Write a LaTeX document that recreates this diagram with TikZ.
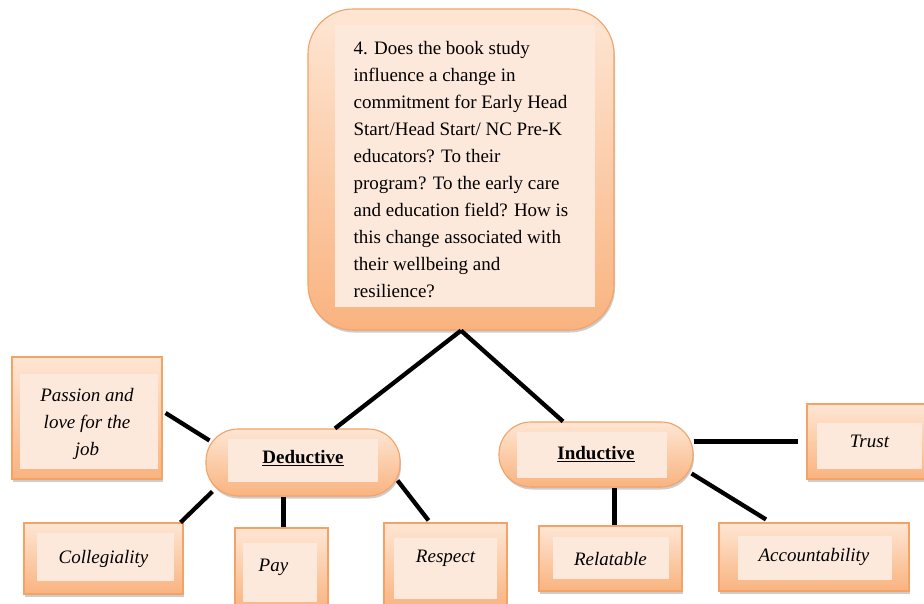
\documentclass[tikz,border=0pt]{standalone}
\usepackage{fontspec}
\setmainfont{Liberation Serif}
\usetikzlibrary{shadows}
\definecolor{edgeOrange}{HTML}{F4A265}
\definecolor{shadeTop}{HTML}{FEE6D4}
\definecolor{shadeBot}{HTML}{F9B37F}
\definecolor{paneFill}{HTML}{FDE9DC}
\begin{document}
\begin{tikzpicture}[x=1pt,y=-1pt,
  card/.style={draw=edgeOrange, line width=1.1pt, top color=shadeTop, bottom color=shadeBot,
    drop shadow={shadow xshift=1pt, shadow yshift=-2.5pt, opacity=0.28, fill=black!70},
    inner sep=0pt, font=\fontsize{19}{27}\selectfont\itshape, align=center},
  pill/.style={card, rounded corners=32pt, font=\fontsize{19}{24}\selectfont\bfseries},
  pane/.style n args={4}{path picture={\fill[paneFill, sharp corners]
      ([xshift=#1,yshift=-#3]path picture bounding box.north west) rectangle
      ([xshift=-#2,yshift=#4]path picture bounding box.south east);}},
  link/.style={line width=4.3pt, black}]
  \useasboundingbox[fill=white] (0,0) rectangle (924,603);

  % central question
  \node[card, rounded corners=45pt, minimum width=306pt, minimum height=321pt,
        pane={27pt}{19pt}{16pt}{23pt}, align=left,
        font=\fontsize{19}{26.9}\selectfont] (q) at (461,169.5)
    {4. Does the book study\\influence a change in\\commitment for Early Head\\
     Start/Head Start/ NC Pre-K\\educators? To their\\program? To the early care\\
     and education field? How is\\this change associated with\\their wellbeing and\\resilience?};

  % the two approaches
  \node[pill, minimum width=194pt, minimum height=67pt, pane={22pt}{22pt}{10pt}{14pt},
        text depth=12pt] (ded) at (303,462.5) {\underline{Deductive}};
  \node[pill, minimum width=194pt, minimum height=65pt, pane={18pt}{26pt}{10pt}{9pt}]
        (ind) at (596,454.5) {\underline{Inductive}};

  % deductive themes
  \node[card, minimum width=150pt, minimum height=122pt, pane={8pt}{4pt}{17pt}{10pt}]
        (pas) at (87,418) {\rule{0pt}{25pt}Passion and\\love for the\\job};
  \node[card, minimum width=159pt, minimum height=71pt, pane={13pt}{9pt}{10pt}{13pt}]
        (col) at (103.5,558.5) {Collegiality};
  \node[card, minimum width=93pt, minimum height=84pt, pane={8pt}{11pt}{15pt}{10pt},
        text depth=10pt] (pay) at (281.5,570) {\hspace*{-16pt}Pay};
  \node[card, minimum width=123pt, minimum height=86pt, pane={10pt}{10pt}{15pt}{10pt},
        text depth=19pt] (res) at (445.5,566) {Respect};

  % inductive themes
  \node[card, minimum width=143pt, minimum height=65pt, pane={14pt}{13pt}{11pt}{12pt}]
        (rel) at (610.5,558.5) {Relatable};
  \node[card, minimum width=190pt, minimum height=68pt, pane={19pt}{17pt}{13pt}{11pt}]
        (acc) at (814,557) {Accountability};
  \node[card, minimum width=125pt, minimum height=75pt, pane={10pt}{10pt}{19pt}{10pt}]
        (tr) at (869.5,441.5) {Trust};

  % connectors
  \draw[link] (q.south) -- ([xshift=32pt]ded.north);
  \draw[link] (q.south) -- ([xshift=-33pt]ind.north);

  \draw[link] ([xshift=3pt,yshift=5pt]pas.east) -- ([xshift=4pt,yshift=22pt]ded.west);
  \draw[link] ([xshift=-3pt]col.north east) -- ([xshift=7pt,yshift=-29pt]ded.west);
  \draw[link] ([xshift=2pt]pay.north) -- ([xshift=2pt]pay.north |- ded.south);
  \draw[link] ([xshift=-3pt,yshift=-18pt]ded.east) -- ([xshift=-17pt,yshift=2pt]res.north);

  \draw[link] ([xshift=4pt]rel.north) -- ([xshift=4pt]rel.north |- ind.south);
  \draw[link] ([xshift=-2pt,yshift=-19pt]ind.east) -- ([xshift=-48pt,yshift=3pt]acc.north);
  \draw[link] (ind.east |- tr.west) -- ([xshift=-8pt]tr.west);
\end{tikzpicture}
\end{document}
